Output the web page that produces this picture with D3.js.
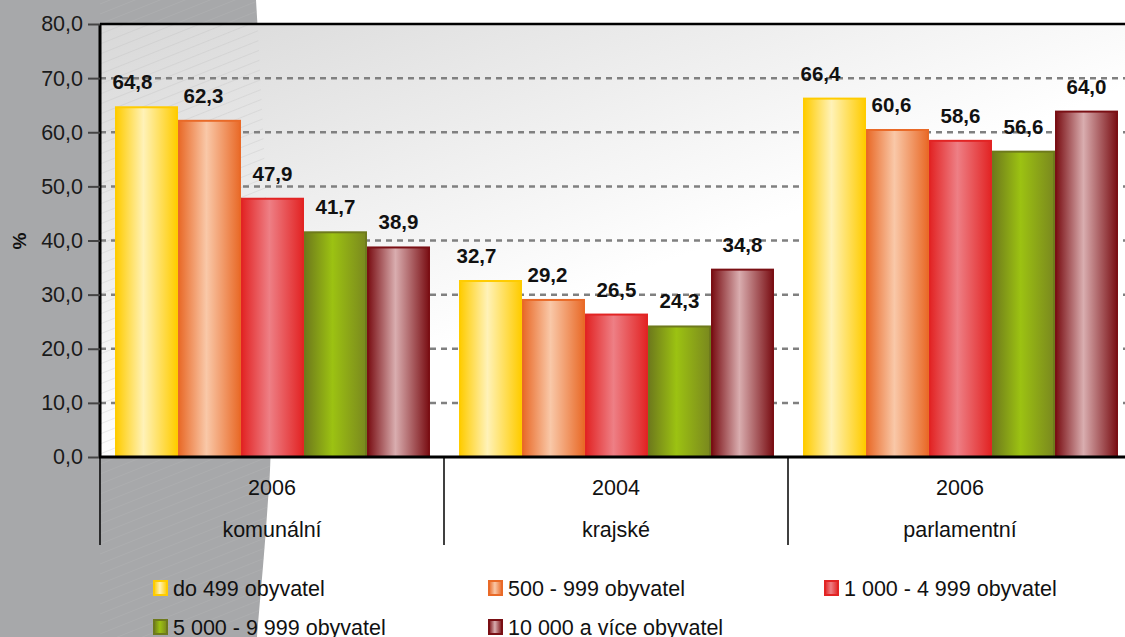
<!DOCTYPE html>
<html>
<head>
<meta charset="utf-8">
<script src="https://cdn.jsdelivr.net/npm/d3@7/dist/d3.min.js"></script>
<style>
  body { margin: 0; background: #fff; }
  text { font-family: "Liberation Sans", Arial, sans-serif; }
</style>
</head>
<body>
<div id="chart"></div>
<script>
// data
var categories = ["komunální", "krajské", "parlamentní"];
var years = ["2006", "2004", "2006"];
var series = ["do 499 obyvatel", "500 - 999 obyvatel", "1 000 - 4 999 obyvatel",
              "5 000 - 9 999 obyvatel", "10 000 a více obyvatel"];
var values = [
  [64.8, 62.3, 47.9, 41.7, 38.9],
  [32.7, 29.2, 26.5, 24.3, 34.8],
  [66.4, 60.6, 58.6, 56.6, 64.0]
];
var yTicks = [0, 10, 20, 30, 40, 50, 60, 70, 80];

// colours: edge, middle, right edge
var colors = [
  ["#ffcc00", "#fff2b8", "#ffcc00"],
  ["#e96a28", "#f9c8a8", "#e96a28"],
  ["#e22424", "#ee7f85", "#e22424"],
  ["#6e7a1c", "#9cc212", "#7a881e"],
  ["#7a0f14", "#d9adaf", "#7a0f14"]
];
// excel nudges the first labels a bit to the left
var labelShift = [-14, -6, 0, 0, 0];

var width = 1125,
    height = 637;

var plotLeft = 100, plotTop = 24, plotBottom = 457;

var svg = d3.select("#chart").append("svg")
    .attr("width", width)
    .attr("height", height);

var defs = svg.append("defs");

// background gradient of the plot area
var bg = defs.append("linearGradient")
    .attr("id", "plotbg")
    .attr("gradientUnits", "userSpaceOnUse")
    .attr("x1", 100).attr("y1", 24)
    .attr("x2", 250).attr("y2", 420);
bg.append("stop").attr("offset", 0).attr("stop-color", "#d8d8d8");
bg.append("stop").attr("offset", 1).attr("stop-color", "#ffffff");

colors.forEach(function(c, i) {
  var g = defs.append("linearGradient")
      .attr("id", "bar" + i)
      .attr("x1", 0).attr("y1", 0).attr("x2", 1).attr("y2", 0);
  g.append("stop").attr("offset", 0).attr("stop-color", c[0]);
  g.append("stop").attr("offset", 0.45).attr("stop-color", c[1]);
  g.append("stop").attr("offset", 1).attr("stop-color", c[2]);
});

// grey sweep on the left
var shape = "M0,0 L256,0 C268,200 276,420 268,500 C264,560 260,600 257,637 L0,637 Z";
defs.append("clipPath").attr("id", "sweep").append("path").attr("d", shape);

svg.append("path")
    .attr("d", shape)
    .attr("fill", "#a7a8aa");

var x0 = d3.scaleBand()
    .domain(categories)
    .range([plotLeft, plotLeft + 344 * 3]);

var x1 = d3.scaleBand()
    .domain(series)
    .range([15, 330]);

var y = d3.scaleLinear()
    .domain([0, 80])
    .range([plotBottom, plotTop]);

// plot area
svg.append("rect")
    .attr("x", plotLeft)
    .attr("y", plotTop)
    .attr("width", width - plotLeft)
    .attr("height", plotBottom - plotTop)
    .attr("fill", "url(#plotbg)");

// faint hatch where the sweep sits behind
var hatch = svg.append("g").attr("clip-path", "url(#sweep)");
for (var k = -40; k < 60; k++) {
  hatch.append("line")
    .attr("x1", plotLeft).attr("y1", plotTop + k * 10 + 60)
    .attr("x2", 300).attr("y2", plotTop + k * 10 - 20)
    .style("stroke", "#bdbdbd")
    .style("stroke-opacity", 0.3)
    .style("stroke-width", 1);
}

// dashed grid
svg.append("g")
  .selectAll("line")
  .data(yTicks.filter(function(d) { return d > 0 && d < 80; }))
  .enter().append("line")
    .attr("x1", plotLeft)
    .attr("x2", width)
    .attr("y1", function(d) { return y(d); })
    .attr("y2", function(d) { return y(d); })
    .style("stroke", "#808080")
    .style("stroke-width", 2.5)
    .style("stroke-dasharray", "6,5");

// bars
var groups = svg.append("g")
  .selectAll("g")
  .data(values)
  .enter().append("g")
    .attr("transform", function(d, i) { return "translate(" + x0(categories[i]) + ",0)"; });

groups.selectAll("rect")
  .data(function(d) { return d; })
  .enter().append("rect")
    .attr("x", function(d, i) { return x1(series[i]) + 1; })
    .attr("y", function(d) { return y(d) + 1; })
    .attr("width", x1.bandwidth() - 2)
    .attr("height", function(d) { return y(0) - y(d) - 1; })
    .attr("fill", function(d, i) { return "url(#bar" + i + ")"; })
    .style("stroke", function(d, i) { return colors[i][0]; })
    .style("stroke-width", 2);

groups.selectAll("text")
  .data(function(d) { return d; })
  .enter().append("text")
    .attr("x", function(d, i) { return x1(series[i]) + x1.bandwidth() / 2 + labelShift[i]; })
    .attr("y", function(d) { return y(d) - 17; })
    .attr("text-anchor", "middle")
    .style("font-size", "20.5px")
    .style("font-weight", "bold")
    .style("fill", "#111")
    .text(function(d) { return d3.format(".1f")(d).replace(".", ","); });

// axes lines
svg.append("line")
    .attr("x1", plotLeft).attr("x2", width)
    .attr("y1", plotTop).attr("y2", plotTop)
    .style("stroke", "#000").style("stroke-width", 2.5);

svg.append("line")
    .attr("x1", plotLeft).attr("x2", plotLeft)
    .attr("y1", plotTop).attr("y2", plotBottom)
    .style("stroke", "#000").style("stroke-width", 3);

var yAxis = d3.axisLeft(y)
    .tickValues(yTicks)
    .tickSize(12)
    .tickPadding(5)
    .tickFormat(function(d) { return d3.format(".1f")(d).replace(".", ","); });

var ya = svg.append("g")
    .attr("transform", "translate(" + plotLeft + ",0)")
    .call(yAxis);
ya.select(".domain").remove();
ya.selectAll(".tick line").style("stroke", "#444").style("stroke-width", 2);
ya.selectAll(".tick text")
    .style("font-size", "21.5px")
    .style("font-family", "'Liberation Sans', Arial, sans-serif")
    .style("fill", "#1a1a1a");

svg.append("line")
    .attr("x1", plotLeft - 1).attr("x2", width)
    .attr("y1", plotBottom).attr("y2", plotBottom)
    .style("stroke", "#000").style("stroke-width", 3);

// category dividers and labels
svg.append("g")
  .selectAll("line")
  .data(categories)
  .enter().append("line")
    .attr("x1", function(d) { return x0(d); })
    .attr("x2", function(d) { return x0(d); })
    .attr("y1", plotBottom)
    .attr("y2", 545)
    .style("stroke", "#000")
    .style("stroke-width", 1.5);

svg.append("g")
  .selectAll("text")
  .data(years)
  .enter().append("text")
    .attr("x", function(d, i) { return x0(categories[i]) + 172; })
    .attr("y", 495)
    .attr("text-anchor", "middle")
    .style("font-size", "21.5px")
    .style("fill", "#111")
    .text(function(d) { return d; });

svg.append("g")
  .selectAll("text")
  .data(categories)
  .enter().append("text")
    .attr("x", function(d) { return x0(d) + 172; })
    .attr("y", 537)
    .attr("text-anchor", "middle")
    .style("font-size", "21.5px")
    .style("fill", "#111")
    .text(function(d) { return d; });

// y title
svg.append("text")
    .attr("transform", "translate(26,241) rotate(-90)")
    .attr("text-anchor", "middle")
    .style("font-size", "19px")
    .style("font-weight", "bold")
    .style("fill", "#111")
    .text("%");

// legend
var legX = [153, 488, 824], legY = [588, 627];
var legend = svg.append("g")
  .selectAll("g")
  .data(series)
  .enter().append("g")
    .attr("transform", function(d, i) {
      return "translate(" + legX[i % 3] + "," + legY[Math.floor(i / 3)] + ")";
    });

legend.append("rect")
    .attr("x", 1).attr("y", -7)
    .attr("width", 13).attr("height", 14)
    .attr("fill", function(d, i) { return "url(#bar" + i + ")"; })
    .style("stroke", function(d, i) { return colors[i][0]; })
    .style("stroke-width", 2);

legend.append("text")
    .attr("x", 20)
    .attr("y", 7.5)
    .style("font-size", "21.5px")
    .style("fill", "#111")
    .text(function(d) { return d; });
</script>
</body>
</html>
